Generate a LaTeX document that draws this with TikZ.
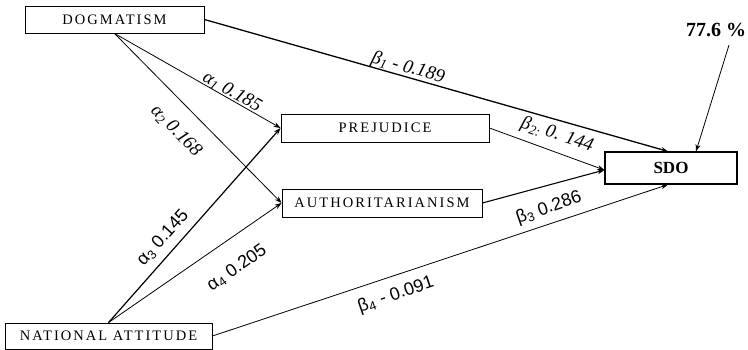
\documentclass[tikz,border=0pt]{standalone}
\usepackage{fontspec}
\setmainfont{Liberation Serif}
\newfontfamily\lsans{Liberation Sans}
\usetikzlibrary{arrows.meta,calc}
\begin{document}
\begin{tikzpicture}[x=1pt,y=-1pt,
  box/.style={draw,line width=0.9pt,inner sep=0pt,
    font=\fontsize{14.5}{16}\selectfont\addfontfeatures{LetterSpace=14}},
  conn/.style={line width=0.8pt,-{Stealth[length=7pt,width=5pt]}},
  lab/.style={inner sep=0pt,font=\fontsize{19}{21}\selectfont\itshape},
  labs/.style={inner sep=0pt,font=\fontsize{18}{20}\selectfont\lsans}]
\useasboundingbox (0,0) rectangle (748,350);
\node[box,minimum width=179pt,minimum height=27pt] (dog) at (114.5,19.5) {DOGMATISM};
\node[box,minimum width=208pt,minimum height=28pt] (prej) at (385,128) {PREJUDICE};
\node[box,minimum width=200pt,minimum height=28pt] (auth) at (382,203) {AUTHORITARIANISM};
\node[box,line width=1.2pt,minimum width=132pt,minimum height=32pt,
  font=\fontsize{17}{19}\selectfont\bfseries] (sdo) at (671,168) {SDO};
\node[box,minimum width=207pt,minimum height=26pt] (nat) at (108.5,336) {NATIONAL ATTITUDE};
\node[inner sep=0pt,font=\fontsize{20}{22}\selectfont\bfseries] (r2) at (716,30) {77.6 \%};
\coordinate (r2s) at (729,45);
% connectors
\draw[conn,line width=1.3pt] (dog.east) -- ([xshift=-3pt]sdo.north);
\draw[conn] (r2s) -- ([xshift=25pt]sdo.north);
\draw[conn] (dog.south) -- (prej.west);
\draw[conn] (dog.south) -- (auth.west);
\draw[conn,line width=1.2pt] (nat.north) -- (prej.west);
\draw[conn] (nat.north) -- (auth.west);
\draw[conn] (nat.east) -- ([xshift=-3pt]sdo.south);
\draw[conn] (prej.east) -- ([yshift=-2pt]sdo.west);
\draw[conn,line width=1.1pt] (auth.east) -- ([yshift=-2pt]sdo.west);
% labels
\node[lab,rotate=-30] (l1) at (232,92) {α\textsubscript{1} 0.185};
\node[lab,rotate=-46] (l2) at (176,131) {α\textsubscript{2} 0.168};
\node[labs,rotate=48] (l3) at (163,238) {α\textsubscript{3} 0.145};
\node[labs,rotate=35] (l4) at (237,268) {α\textsubscript{4} 0.205};
\node[lab,rotate=-16] (b1) at (408,68) {β\textsubscript{1} - 0.189};
\node[lab,rotate=-18] (b2) at (557,135) {β\textsubscript{2:} 0. 144};
\node[labs,rotate=19] (b3) at (549,208) {β\textsubscript{3} 0.286};
\node[labs,rotate=19] (b4) at (396,295) {β\textsubscript{4} - 0.091};
\end{tikzpicture}
\end{document}
